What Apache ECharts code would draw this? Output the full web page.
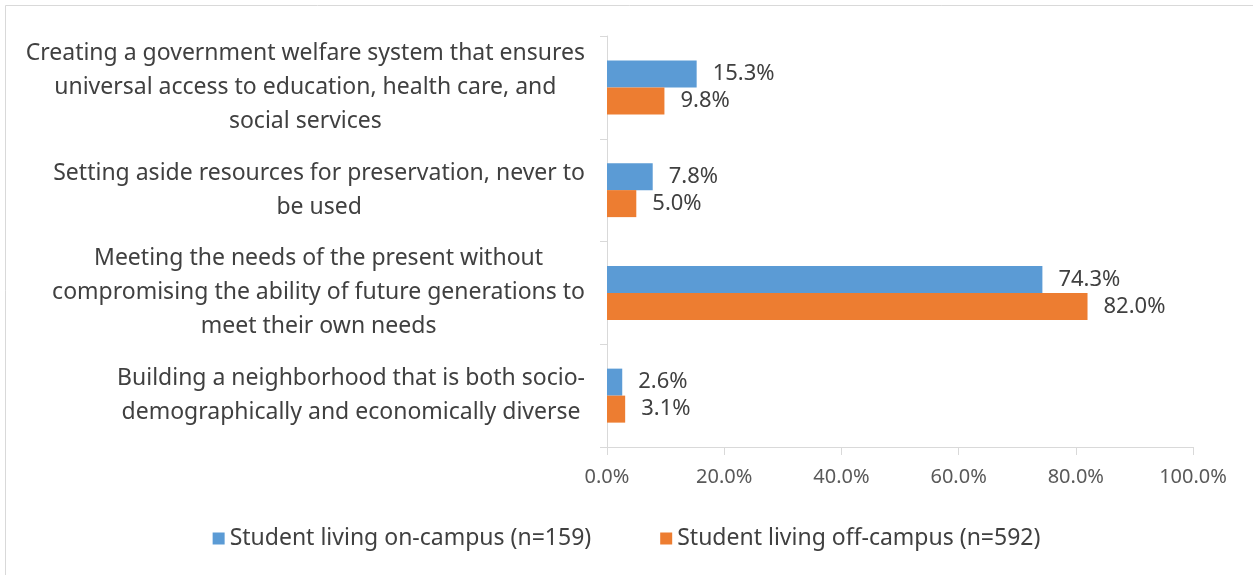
<!DOCTYPE html>
<html>
<head>
<meta charset="utf-8">
<script src="https://cdn.jsdelivr.net/npm/echarts@6/dist/echarts.min.js"></script>
<style>
  html, body { margin: 0; padding: 0; background: #fff; }
  #chart { width: 1253px; height: 575px; }
</style>
</head>
<body>
<div id="chart"></div>
<script>
// Survey answers: which statement best describes sustainability
const categories = [
  'Creating a government welfare system that ensures\nuniversal access to education, health care, and\nsocial services',
  'Setting aside resources for preservation, never to\nbe used',
  'Meeting the needs of the present without\ncompromising the ability of future generations to\nmeet their own needs',
  'Building a neighborhood that is both socio-\ndemographically and economically diverse'
];
const seriesNames = ['Student living on-campus (n=159)', 'Student living off-campus (n=592)'];
const onCampus = [15.3, 7.8, 74.3, 2.6];
const offCampus = [9.8, 5.0, 82.0, 3.1];
const xTicks = [0, 20, 40, 60, 80, 100];

const FONT = '"Noto Sans", "Open Sans", sans-serif';
const TEXT = '#404040';

const chart = echarts.init(document.getElementById('chart'), null, { renderer: 'canvas' });

const valueLabel = {
  show: true,
  position: 'right',
  distance: 16,
  color: TEXT,
  fontFamily: FONT,
  fontSize: 22,
  formatter: p => p.value.toFixed(1) + '%'
};

chart.setOption({
  animation: false,
  backgroundColor: '#fff',
  textStyle: { fontFamily: FONT },
  graphic: [{
    type: 'rect',
    shape: { x: 5.5, y: 5.5, width: 1300, height: 600 },
    style: { fill: 'none', stroke: '#d9d9d9', lineWidth: 1 },
    silent: true
  }],
  grid: { left: 607, right: 60, top: 36, bottom: 128, containLabel: false },
  legend: {
    bottom: 20,
    left: 'center',
    icon: 'rect',
    itemWidth: 12,
    itemHeight: 12,
    itemGap: 69,
    textStyle: { color: TEXT, fontFamily: FONT, fontSize: 23 },
    data: seriesNames
  },
  xAxis: {
    type: 'value',
    min: xTicks[0],
    max: xTicks[xTicks.length - 1],
    interval: 20,
    axisLine: { show: true, lineStyle: { color: '#d9d9d9', width: 1 } },
    axisTick: { show: true, length: 8, lineStyle: { color: '#d9d9d9' } },
    splitLine: { show: false },
    axisLabel: {
      color: '#595959',
      fontFamily: FONT,
      fontSize: 20,
      margin: 20,
      formatter: v => v.toFixed(1) + '%'
    }
  },
  yAxis: {
    type: 'category',
    inverse: true,
    data: categories,
    axisLine: { show: true, lineStyle: { color: '#d9d9d9', width: 1 } },
    axisTick: { show: true, length: 7, lineStyle: { color: '#d9d9d9' } },
    axisLabel: {
      margin: 22,
      align: 'right',
      formatter: v => v.split('\n').map(s => '{c|' + s + '}').join('\n'),
      rich: {
        c: { color: TEXT, fontFamily: FONT, fontSize: 23, lineHeight: 34, align: 'center' }
      }
    }
  },
  series: [
    {
      name: seriesNames[0],
      type: 'bar',
      data: onCampus,
      barWidth: 27,
      barGap: '0%',
      itemStyle: { color: '#5B9BD5' },
      label: valueLabel
    },
    {
      name: seriesNames[1],
      type: 'bar',
      data: offCampus,
      barWidth: 27,
      barGap: '0%',
      itemStyle: { color: '#ED7D31' },
      label: valueLabel
    }
  ]
});
</script>
</body>
</html>
